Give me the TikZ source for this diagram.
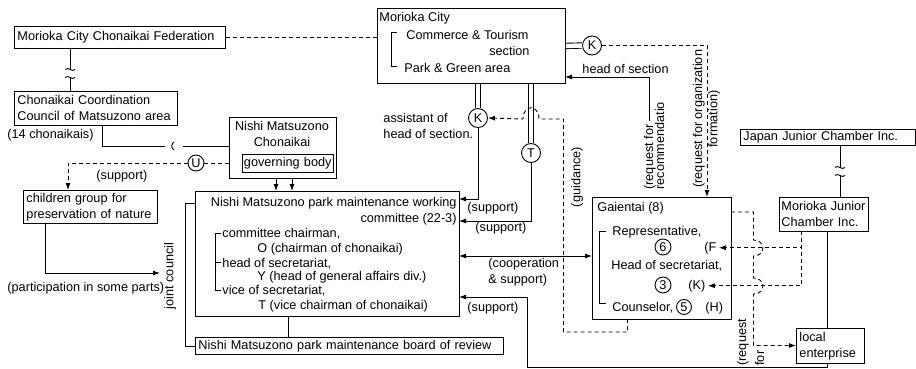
\documentclass[tikz,border=0pt]{standalone}
\usepackage{fontspec}
\setmainfont{Liberation Sans}
\usetikzlibrary{arrows.meta}

\tikzset{
  box/.style={draw, fill=white, inner xsep=3pt, inner ysep=1pt, anchor=north west, align=left},
  lbl/.style={anchor=base west, inner sep=0pt},
  rlbl/.style={anchor=base east, inner sep=0pt},
  dsh/.style={dash pattern=on 4pt off 3pt},
  dbl/.style={double, double distance=4.5pt},
  circ/.style={draw, circle, fill=white, minimum size=16pt, inner sep=0pt},
}

\begin{document}
\begin{tikzpicture}[x=1pt, y=-1pt, line width=0.9pt,
    >={Latex[length=7pt,width=5pt]},
    font=\fontsize{12.7}{16}\selectfont]

        \useasboundingbox (0,0) rectangle (916,369);

        % left column
        \node[box, text width=205pt, minimum height=22pt] (fed)   at (14,26)  {Morioka City Chonaikai Federation};
        \node[box, text width=157pt, minimum height=34pt] (coord) at (14,91)  {Chonaikai Coordination\\Council of Matsuzono area};
        \node[lbl]                                        (nr14)  at (7,139)  {(14 chonaikais)};
        \node[box, text width=128pt, minimum height=33pt] (kids)  at (23,190) {children group for\\preservation of nature};
        \node[lbl]                                        (part)  at (7,291)  {(participation in some parts)};
        \node[rotate=90, inner sep=0pt]                   (joint) at (170,276) {joint council};

        % Nishi Matsuzono Chonaikai
        \node[box, minimum width=107pt, minimum height=61pt] (chon)  at (229,117) {};
        \node[anchor=base, inner sep=0pt]                    (chon1) at (282,130) {Nishi Matsuzono};
        \node[anchor=base, inner sep=0pt]                    (chon2) at (282,146) {Chonaikai};
        \node[box, text width=88pt, inner xsep=1.5pt, minimum height=18pt] (gov) at (242,154) {governing body};
        \node[circ]                                          (u)     at (196,163) {U};
        \node[lbl]                                           (supu)  at (96,179)  {(support)};

        % working committee
        \node[box, minimum width=264pt, minimum height=125pt] (cmt) at (195,191) {};
        \node[rlbl] (cmt1)   at (457,206) {Nishi Matsuzono park maintenance working};
        \node[rlbl] (cmt2)   at (457,222) {committee (22-3)};
        \node[lbl]  (chair)  at (222,237) {committee chairman,};
        \node[lbl]  (chairo) at (257,252) {O (chairman of chonaikai)};
        \node[lbl]  (sec)    at (222,267) {head of secretariat,};
        \node[lbl]  (secy)   at (257,280) {Y (head of general affairs div.)};
        \node[lbl]  (vice)   at (222,294) {vice of secretariat,};
        \node[lbl]  (vicet)  at (258,309) {T (vice chairman of chonaikai)};
        \draw (221,233) -| (215,290) -- (221,290);                  %bracket
        \draw (215,262) -- (221,262);                               %

        \node[box, text width=302pt, minimum height=17pt, inner ysep=0pt] (board) at (195,337) {Nishi Matsuzono park maintenance board of review};

        % Morioka City
        \node[box, minimum width=188pt, minimum height=75pt] (city) at (377,8) {};
        \node[lbl]  (city0) at (379,22) {Morioka City};
        \node[lbl]  (comm)  at (406,40) {Commerce \& Tourism};
        \node[rlbl] (sect)  at (530,56) {section};
        \node[lbl]  (park)  at (404,73) {Park \& Green area};
        \draw (397,32) -| (391,66) -- (397,66);                     %bracket

        % Gaientai
        \node[box, minimum width=139pt, minimum height=122pt] (gaien) at (592,197) {};
        \node[lbl]                      (gai0)  at (597,211) {Gaientai (8)};
        \node[lbl]                      (rep)   at (612,235) {Representative,};
        \node[circ]                     (n6)    at (663,247) {6};
        \node[lbl, inner xsep=2pt]      (fref)  at (702,251) {(F};
        \node[lbl]                      (hsec)  at (611,269) {Head of secretariat,};
        \node[circ]                     (n3)    at (663,285) {3};
        \node[lbl, inner xsep=2pt]      (kref)  at (686,289) {(K)};
        \node[lbl]                      (couns) at (612,311) {Counselor,};
        \node[circ, minimum size=15pt]  (n5)    at (684,307) {5};
        \node[lbl]                      (href)  at (705,311) {(H)};
        \draw (606,231) -| (599,303) -- (606,303);                  %bracket

        % junior chambers
        \node[box, text width=169pt, minimum height=16pt, inner ysep=0pt] (japan)  at (740,129) {Japan Junior Chamber Inc.};
        \node[box, text width=85pt, minimum height=34pt, inner xsep=2pt] (junior) at (779,197) {Morioka Junior\\Chamber Inc.};
        \node[box, text width=62pt, minimum height=35pt]                  (local)  at (796,328) {local\\enterprise};

        % K and T
        \node[circ, minimum size=19pt] (kr) at (592,45.5) {K};
        \node[circ, minimum size=19pt] (kl) at (478,118)  {K};
        \node[circ, minimum size=19pt] (tt) at (531,153)  {T};

        % labels
        \node[lbl] (asst1) at (383,122) {assistant of};
        \node[lbl] (asst2) at (383,139) {head of section.};
        \node[lbl] (hsect) at (582,74)  {head of section};
        \node[lbl] (sup1)  at (467,211) {(support)};
        \node[lbl] (sup2)  at (475,231) {(support)};
        \node[lbl] (sup3)  at (467,311) {(support)};
        \node[lbl] (coop1) at (488,267) {(cooperation};
        \node[lbl] (coop2) at (488,283) {\& support)};
        \node[rotate=90, inner sep=0pt] (guid)  at (577,177) {(guidance)};
        \node[lbl, rotate=90]           (reqr1) at (653,190) {(request for};
        \node[lbl, rotate=90]           (reqr2) at (664,190) {recommendatio};
        \node[lbl, rotate=90]           (reqo1) at (702,188) {(request for organization};
        \node[rotate=90, inner sep=0pt] (reqo2) at (714,119) {formation)};
        \node[lbl, rotate=90]           (reqe1) at (746,366) {(request};
        \node[lbl, rotate=90]           (reqe2) at (764,366) {for};

        % federation links
        \draw[dsh] (fed.east) -- (fed.east -| city.west);
        \coordinate (f1) at (70,48);
        \coordinate (f2) at (70,91);
        \draw (f1) -- ++(0,21);
        \draw (f2) -- ++(0,-14);
        \draw (65,69.5) .. controls (68,66) and (72,73) .. (75,69.5);   %break
        \draw (65,77.5) .. controls (68,74) and (72,81) .. (75,77.5);   %

        % coordination council to chonaikai
        \coordinate (c1)   at (102,125);
        \coordinate (gap1) at (165,146);
        \coordinate (gap2) at (183,146);
        \draw (c1) |- (gap1);
        \draw (gap2) -- (gap2 -| chon.west);
        \draw (174,142) .. controls (171,144) and (171,148) .. (174,150);

        % U support
        \draw[dsh] (u.east) -- (u.east -| chon.west);
        \coordinate (kt) at (68,190);
        \draw[dsh,->] (u.west) -| (kt);

        % chonaikai to committee
        \coordinate (a1) at (276,178);
        \coordinate (a2) at (292,178);
        \draw[->] (a1) -- (a1 |- cmt.north);
        \draw[->] (a2) -- (a2 |- cmt.north);

        % children group participation
        \coordinate (kb) at (45,223);
        \coordinate (pt) at (160,273);
        \draw[->] (kb) |- (pt);

        % joint council
        \coordinate (jc) at (195,203);
        \draw (jc) -- ++(-10,0) |- (board.west);
        \coordinate (cb) at (288,316);
        \draw (cb) -- (cb |- board.north);

        % city to K and T
        \draw[dbl] (city.east) -- (kr.west);
        \draw[dbl] (kl.north |- city.south) -- (kl.north);
        \draw[dbl] (tt.north |- city.south) -- (tt.north);
        \coordinate (s1) at (459,199);
        \coordinate (s2) at (459,221);
        \draw[->] (kl.south) |- (s1);
        \draw[->] (tt.south) |- (s2);

        % request for organization formation
        \coordinate (orgtip) at (707,197);
        \draw[dsh,->] (kr.east) -| (orgtip);

        % head of section
        \coordinate (hs) at (649,121);
        \coordinate (ht) at (565,77);
        \draw[->] (hs) |- (ht);

        % guidance
        \coordinate (gd) at (627.5,319);
        \draw[dsh,->] (gd) -- ++(0,13) -| (563.5,119) -- (539,119)
              .. controls (539,104) and (523,104) .. (523,119) -- (kl.east);

        % cooperation
        \coordinate (co1) at (459,256);
        \draw[<->] (co1) -- (co1 -| gaien.west);

        % junior chamber to Gaientai members
        \coordinate (jd) at (801,231);
        \draw[dsh,->] (jd) |- (fref.east);
        \draw[dsh,->] (jd) |- (kref.east);

        % Gaientai to local enterprise
        \coordinate (ga1) at (731,212);
        \coordinate (lw)  at (753.5,345.5);
        \draw[dsh,->] (ga1) -- (753.5,212) -- (753.5,240)
              .. controls (766,240) and (766,256) .. (753.5,256) -- (753.5,278)
              .. controls (766,278) and (766,294) .. (753.5,294) -- (lw) -- (lw -| local.west);

        % junior chamber support
        \coordinate (jb) at (827,231);
        \coordinate (s3) at (459,297);
        \draw (jb) -- (jb |- local.north);
        \draw[->] (jb |- local.south) |- (527,367) |- (s3);

        \coordinate (j1) at (840,145);
        \coordinate (j2) at (840,197);
        \draw (j1) -- ++(0,22);
        \draw (j2) -- ++(0,-21);
        \draw (835,167.5) .. controls (838,164) and (842,171) .. (845,167.5);   %break
        \draw (835,175.5) .. controls (838,172) and (842,179) .. (845,175.5);   %

\end{tikzpicture}
\end{document}
